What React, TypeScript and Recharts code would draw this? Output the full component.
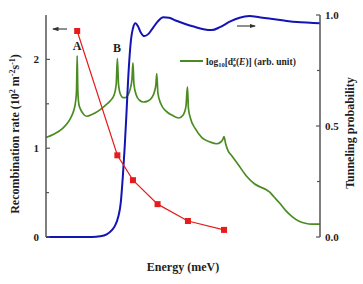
import React from 'react';
import { ComposedChart, Line, XAxis, YAxis } from 'recharts';

// recombination rate (10^2 m^-2 s^-1) at the subband energies
const rateEnergy = [19, 43.5, 53, 68, 86.5, 108.5];
const rateValue = [2.32, 0.92, 0.64, 0.37, 0.18, 0.08];

// log10 density of states (arb. unit), drawn on the left scale
const dosEnergy = [
  0, 5, 10, 13, 15, 17, 18, 18.6, 19, 19.4, 20, 21, 23, 25, 28, 32, 36, 39, 41.5, 42.8, 43.5, 44.2,
  45.5, 47, 48.5, 50, 51.5, 52.4, 53, 53.6, 55, 57, 59.5, 62, 64.5, 66.3, 67, 67.5, 68.2, 70, 73, 77,
  81, 83.5, 85.3, 86.2, 86.8, 88, 91, 95, 100, 104, 106.5, 107.8, 108.5, 109.5, 111, 113, 117, 122,
  127, 131, 134, 136, 139, 142.5, 146, 150, 154, 158, 162, 167,
];
const dosValue = [
  1.12, 1.16, 1.22, 1.28, 1.34, 1.43, 1.52, 1.65, 2.04, 1.65, 1.5, 1.44, 1.38, 1.36, 1.38, 1.42, 1.48,
  1.53, 1.6, 1.72, 2.01, 1.72, 1.6, 1.57, 1.57, 1.6, 1.68, 1.78, 1.96, 1.72, 1.6, 1.54, 1.52, 1.53,
  1.57, 1.65, 1.72, 1.84, 1.62, 1.5, 1.42, 1.37, 1.34, 1.37, 1.47, 1.69, 1.45, 1.34, 1.22, 1.12, 1.07,
  1.05, 1.07, 1.1, 1.13, 1.05, 0.97, 0.92, 0.82, 0.69, 0.6, 0.56, 0.535, 0.51, 0.45, 0.38, 0.3, 0.23,
  0.18, 0.155, 0.145, 0.145,
];

// tunneling probability, right scale
const tunEnergy = [
  0, 28, 33, 37, 40, 42, 44, 45.5, 46.8, 48, 49, 50, 51, 52, 53, 54.5, 56, 57.5, 60, 62.5, 65, 68,
  71.5, 75, 79, 84, 90, 96, 101, 106, 112, 118, 124, 130, 137, 145, 153, 161, 167,
];
const tunValue = [
  0, 0, 0.003, 0.012, 0.03, 0.05, 0.09, 0.15, 0.27, 0.41, 0.55, 0.7, 0.82, 0.9, 0.94, 0.963, 0.95,
  0.925, 0.905, 0.915, 0.94, 0.97, 0.99, 0.988, 0.975, 0.962, 0.948, 0.936, 0.932, 0.945, 0.97, 0.988,
  0.995, 0.99, 0.983, 0.975, 0.968, 0.965, 0.963,
];

const energyTicks = [0, 25, 50, 75, 100, 125, 150];
const rateTicks = [0, 0.5, 1, 1.5, 2, 2.5];
const tunTicks = [0, 0.25, 0.5, 0.75, 1];

const rateData = rateEnergy.map((e, i) => ({ e, v: rateValue[i] }));
const dosData = dosEnergy.map((e, i) => ({ e, v: dosValue[i] }));
const tunData = tunEnergy.map((e, i) => ({ e, v: tunValue[i] }));

const FONT = '"Liberation Serif", "Times New Roman", serif';
const INK = '#1e1e1e';
const AXIS = '#555';

const BottomTick = (p: any) => {
  const v = p.payload.value;
  const major = v % 50 === 0;
  return (
    <g>
      <line x1={p.x} x2={p.x} y1={p.y} y2={p.y - (major ? 4 : 3)} stroke={AXIS} strokeWidth={1.2} />
      {major && (
        <text x={p.x} y={p.y + 14} textAnchor="middle" fontFamily={FONT} fontWeight="bold" fontSize={11} fill={INK}>
          {v}
        </text>
      )}
    </g>
  );
};

const TopTick = (p: any) => {
  const major = p.payload.value % 50 === 0;
  return <line x1={p.x} x2={p.x} y1={p.y} y2={p.y + (major ? 4 : 3)} stroke={AXIS} strokeWidth={1.2} />;
};

const LeftTick = (p: any) => {
  const v = p.payload.value;
  const major = Number.isInteger(v);
  if (v > 2.4) return null;
  return (
    <g>
      <line x1={p.x} x2={p.x + (major ? 4 : 3)} y1={p.y} y2={p.y} stroke={AXIS} strokeWidth={1.2} />
      {major && (
        <text x={p.x - 7} y={p.y + 4} textAnchor="end" fontFamily={FONT} fontWeight="bold" fontSize={11} fill={INK}>
          {v}
        </text>
      )}
    </g>
  );
};

const RightTick = (p: any) => {
  const v = p.payload.value;
  const major = v === 0 || v === 0.5 || v === 1;
  return (
    <g>
      <line x1={p.x} x2={p.x - (major ? 4 : 3)} y1={p.y} y2={p.y} stroke={AXIS} strokeWidth={1.2} />
      {major && (
        <text x={p.x + 5} y={p.y + 4} textAnchor="start" fontFamily={FONT} fontWeight="bold" fontSize={11} fill={INK}>
          {v.toFixed(1)}
        </text>
      )}
    </g>
  );
};

const SquareDot = (p: any) => (
  <rect key={`sq-${p.index}`} x={p.cx - 3} y={p.cy - 3} width={6} height={6} fill="#e61c1c" />
);

export default function App() {
  return (
    <div style={{ position: 'relative', width: 363, height: 284, background: '#fff' }}>
      <style>{'body{margin:0}'}</style>
      <ComposedChart width={363} height={284} margin={{ top: 15, right: 0, bottom: 47, left: 0 }}>
        <XAxis
          xAxisId="b"
          type="number"
          dataKey="e"
          domain={[0, 167]}
          ticks={energyTicks}
          interval={0}
          height={0}
          tickSize={0}
          tickMargin={0}
          tickLine={false}
          tick={<BottomTick />}
          axisLine={{ stroke: AXIS, strokeWidth: 1.5 }}
          allowDuplicatedCategory={false}
        />
        <XAxis
          xAxisId="t"
          orientation="top"
          type="number"
          dataKey="e"
          domain={[0, 167]}
          ticks={energyTicks}
          interval={0}
          height={0}
          tickSize={0}
          tickMargin={0}
          tickLine={false}
          tick={<TopTick />}
          axisLine={{ stroke: AXIS, strokeWidth: 1.5 }}
        />
        <YAxis
          yAxisId="l"
          type="number"
          domain={[0, 2.5]}
          ticks={rateTicks}
          interval={0}
          width={46}
          tickSize={0}
          tickMargin={0}
          tickLine={false}
          tick={<LeftTick />}
          axisLine={{ stroke: AXIS, strokeWidth: 1.5 }}
        />
        <YAxis
          yAxisId="r"
          orientation="right"
          type="number"
          domain={[0, 1]}
          ticks={tunTicks}
          interval={0}
          width={43}
          tickSize={0}
          tickMargin={0}
          tickLine={false}
          tick={<RightTick />}
          axisLine={{ stroke: AXIS, strokeWidth: 1.5 }}
        />
        <Line
          xAxisId="b"
          yAxisId="l"
          data={dosData}
          dataKey="v"
          type="monotone"
          stroke="#4a8c22"
          strokeWidth={1.7}
          dot={false}
          isAnimationActive={false}
        />
        <Line
          xAxisId="b"
          yAxisId="r"
          data={tunData}
          dataKey="v"
          type="monotone"
          stroke="#1414b4"
          strokeWidth={2}
          dot={false}
          isAnimationActive={false}
        />
        <Line
          xAxisId="b"
          yAxisId="l"
          data={rateData}
          dataKey="v"
          type="linear"
          stroke="#e61c1c"
          strokeWidth={1.2}
          dot={<SquareDot />}
          isAnimationActive={false}
        />
      </ComposedChart>

      <svg width={363} height={284} style={{ position: 'absolute', left: 0, top: 0, pointerEvents: 'none' }}>
        <defs>
          <marker id="ah" markerWidth="6" markerHeight="4" refX="5" refY="2" orient="auto">
            <path d="M0,0 L6,2 L0,4 z" fill="#333" />
          </marker>
        </defs>
        <g fontFamily={FONT} fontWeight="bold" fill={INK}>
          <text x={77} y={50} fontSize={12} textAnchor="middle">A</text>
          <text x={117} y={52} fontSize={12} textAnchor="middle">B</text>

          <line x1={67} y1={29} x2={53} y2={29} stroke="#333" strokeWidth={1.1} markerEnd="url(#ah)" />
          <line x1={237} y1={26} x2={255} y2={26} stroke="#333" strokeWidth={1.1} markerEnd="url(#ah)" />

          <line x1={180} y1={61} x2={203} y2={61} stroke="#4a8c22" strokeWidth={2} />
          <text x={206} y={64.5} fontSize={9.5}>
            log<tspan fontSize={6.5} dy={2.5}>10</tspan>
            <tspan dy={-2.5}>[d</tspan>
            <tspan fontSize={6.5} dy={-3.5}>z</tspan>
            <tspan fontSize={6.5} dx={-3} dy={6}>e</tspan>
            <tspan dy={-2.5}>(</tspan>
            <tspan fontStyle="italic">E</tspan>)] (arb. unit)
          </text>

          <text x={183} y={271} fontSize={12} textAnchor="middle">Energy (meV)</text>

          <text transform="translate(19,134) rotate(-90)" fontSize={12} textAnchor="middle">
            Recombination rate (10<tspan fontSize={8} dy={-4}>2</tspan>
            <tspan dy={4}> m</tspan>
            <tspan fontSize={8} dy={-4}>-2</tspan>
            <tspan dy={4}>s</tspan>
            <tspan fontSize={8} dy={-4}>-1</tspan>
            <tspan dy={4}>)</tspan>
          </text>

          <text transform="translate(354,133) rotate(-90)" fontSize={12} textAnchor="middle">
            Tunneling probability
          </text>
        </g>
      </svg>
    </div>
  );
}
